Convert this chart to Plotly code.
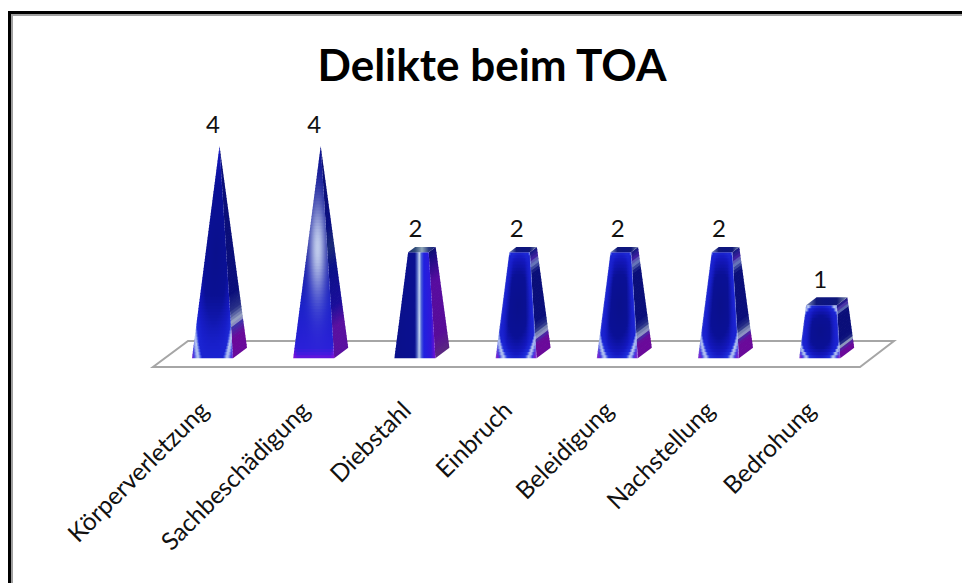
import math
import plotly.graph_objects as go

# ---- data ----
categories = ["Körperverletzung", "Sachbeschädigung", "Diebstahl", "Einbruch",
              "Beleidigung", "Nachstellung", "Bedrohung"]
values = [4, 4, 2, 2, 2, 2, 1]
point_styles = ["ring", "glow", "stripe", "ring", "ring", "ring", "ring"]
chart_title = "Delikte beim TOA"

# ---- canvas / scale (pixel constants are in page coordinates) ----
W, H_PAGE = 962, 583
L, R, T, B = 100, 930, 100, 390
PX_X = 101.2      # pixels per category
PX_Y = 51.75      # pixels per value unit
X0, Y0 = 219.5, 353
AXIS_MAX = 4.0    # pyramid apex value


def dx(px):
    return px / PX_X


def dy(px):
    return px / PX_Y


def hex2rgb(h):
    return tuple(int(h[i:i + 2], 16) for i in (1, 3, 5))


def ramp(stops, t):
    if t <= stops[0][0]:
        return hex2rgb(stops[0][1])
    for (a, ca), (b, cb) in zip(stops, stops[1:]):
        if t <= b:
            f = (t - a) / (b - a)
            A, Bb = hex2rgb(ca), hex2rgb(cb)
            return tuple(A[i] + (Bb[i] - A[i]) * f for i in range(3))
    return hex2rgb(stops[-1][1])


def css(c):
    return "rgb(%d,%d,%d)" % tuple(int(round(v)) for v in c)


def mix(a, b, f):
    return tuple(a[i] + (b[i] - a[i]) * f for i in range(3))


RING = [(0, "#0a108c"), (0.5, "#0a1096"), (0.75, "#1418c0"), (0.9, "#2030e0"),
        (0.98, "#b8c8f0"), (1.03, "#a0b0f0"), (1.1, "#4040e0"), (1.18, "#7a18d0"), (1.4, "#8a10b0")]
GLOW_V = [(0, "#7a10d8"), (0.015, "#4a18e0"), (0.05, "#2a20d8"), (0.25, "#1a20c8"),
          (0.5, "#0a1098"), (1, "#0a1090")]
STRIPE = [(-22, "#0a108c"), (-7, "#0a1090"), (-4.5, "#5a70c8"), (-2.5, "#c8d8f0"),
          (-0.5, "#4a60d8"), (2, "#2020e0"), (9, "#3018d8"), (14, "#7a10d0")]


def front_color(style, u, xn, x_from_c, h, H, tall):
    if style == "ring":
        yn = (h - H / 2) / (H / 2)
        d = math.sqrt(xn ** 2 + (0.87 * yn) ** 2) / (1.12 if tall else 1.05)
        col = ramp(RING, d)
        if tall and d < 0.9:
            col = mix(col, hex2rgb("#1a22d0"), max(0, min(1, 1 - h / (0.3 * H))))
        if not tall:
            col = mix(col, hex2rgb("#1a22d0"), max(0, min(1, (abs(u) - 0.5) / 0.35)) * (1 if d < 0.9 else 0))
            col = mix(col, hex2rgb("#8fa0e8"), max(0, min(1, (abs(u) - 0.93) / 0.07)) * 0.6)
        return col
    if style == "glow":
        base = ramp(GLOW_V, h / H)
        base = mix(base, hex2rgb("#8a10d8"), max(0, min(1, (abs(xn) - 0.8) / 0.2)) * max(0, 1 - h / 14))
        e = ((x_from_c + 3) / 10) ** 2 + ((h - 108) / 55) ** 2
        return mix(base, hex2rgb("#c8d4f0"), 0.95 * math.exp(-1.3 * e))
    return ramp(STRIPE, x_from_c)


def side_color(style, h, H, tall):
    t = h / H
    if style == "ring":
        band = 0.16 if tall else 0.2
        if not tall and t > 0.8:
            return ramp([(0.8, "#0a0e7a"), (0.88, "#7080c0"), (0.93, "#4020a0"), (1, "#101880")], t)
        return ramp([(0, "#6a0a9a"), (band - 0.07, "#6a0a9a"), (band - 0.02, "#4030a8"),
                     (band, "#a8b4cc"), (band + 0.06, "#283088"), (band + 0.14, "#0a0e7a"),
                     (1, "#0a0e78")], t)
    if style == "glow":
        return ramp([(0, "#5a10a0"), (0.14, "#5a10a0"), (0.24, "#1a0e9a"), (0.42, "#0a1088"),
                     (0.52, "#1a2a78"), (0.62, "#0a0e80"), (1, "#0a0e70")], t)
    return ramp([(0, "#5a2a80"), (0.2, "#580c98"), (0.7, "#580ca0"), (0.95, "#180c80"), (1, "#101070")], t)


TOP_STOPS = {
    "ring": ["#8090b8", "#101878", "#0c1480", "#101878", "#8090b0"],
    "stripe": ["#1c2c70", "#304c78", "#90a8b8", "#2a3a80", "#182080"],
}

fig = go.Figure()
STEP = 3.0
FRONT_Y, HALF_W, SIDE_X, BACK_X = 5.25, 20.5, 7.0, 27.5


def poly(xs, ys, colors=None, fill=None):
    tr = dict(x=xs + xs[:1], y=ys + ys[:1], mode="lines", fill="toself",
              line=dict(width=0), hoverinfo="skip", showlegend=False)
    if colors:
        n = len(colors) - 1
        tr["fillgradient"] = dict(type="horizontal",
                                  colorscale=[[i / n, c] for i, c in enumerate(colors)])
    else:
        tr["fillcolor"] = fill
    fig.add_trace(go.Scatter(**tr))


for i, (v, style) in enumerate(zip(values, point_styles)):
    Hfull = v * PX_Y
    tall = v >= AXIS_MAX
    n = max(2, int(round(Hfull / STEP)))

    def scale(h):
        return 1 - (h / Hfull) * (v / AXIS_MAX)

    # side face first (front overlaps its seam)
    for k in range(n):
        h1, h2 = Hfull * k / n, Hfull * (k + 1.25) / n
        h2 = min(h2, Hfull)
        s1, s2 = scale(h1), scale(h2)
        xs = [i + dx(13.5 * s1), i + dx(BACK_X * s1), i + dx(BACK_X * s2), i + dx(13.5 * s2)]
        ys = [dy(h1 - FRONT_Y * s1), dy(h1 + FRONT_Y * s1), dy(h2 + FRONT_Y * s2), dy(h2 - FRONT_Y * s2)]
        poly(xs, ys, fill=css(side_color(style, (h1 + h2) / 2, Hfull, tall)))

    # front face as stacked strips with horizontal gradients
    for k in range(n):
        h1, h2 = Hfull * k / n, Hfull * (k + 1.25) / n
        h2 = min(h2, Hfull)
        s1, s2 = scale(h1), scale(h2)
        hm = (h1 + h2) / 2
        sm = scale(hm)
        cols = []
        for j in range(41):
            u = -1 + 2 * j / 40
            xn = u * s1                     # relative to the base half width
            x_from_c = -SIDE_X * sm + xn * HALF_W
            cols.append(css(front_color(style, u, xn, x_from_c, hm, Hfull, tall)))
        xs = [i + dx((-SIDE_X - HALF_W) * s1), i + dx((-SIDE_X + HALF_W) * s1),
              i + dx((-SIDE_X + HALF_W) * s2), i + dx((-SIDE_X - HALF_W) * s2)]
        ys = [dy(h1 - FRONT_Y * s1), dy(h1 - FRONT_Y * s1), dy(h2 - FRONT_Y * s2), dy(h2 - FRONT_Y * s2)]
        poly(xs, ys, colors=cols)

    # top face of truncated pyramids
    if not tall:
        s = scale(Hfull)
        xs = [i + dx((-SIDE_X - HALF_W) * s), i + dx((-SIDE_X + HALF_W) * s),
              i + dx(BACK_X * s), i + dx((BACK_X - 2 * HALF_W) * s)]
        ys = [dy(Hfull - FRONT_Y * s), dy(Hfull - FRONT_Y * s), dy(Hfull + FRONT_Y * s), dy(Hfull + FRONT_Y * s)]
        poly(xs, ys, colors=TOP_STOPS.get(style, TOP_STOPS["ring"]))

# value labels
fig.add_trace(go.Scatter(
    x=[i - dx(6.5) for i in range(len(values))],
    y=[v + dy(7) for v in values],
    text=[str(v) for v in values],
    mode="text", textposition="top center",
    textfont=dict(family="Lato, Carlito, sans-serif", size=24, color="#111111"),
    hoverinfo="skip", showlegend=False))


def xp(px):
    return (px - L) / (R - L)


def yp(py):
    return 1 - (py - T) / (B - T)


def fx(px):
    return (px - X0) / PX_X


def fy(py):
    return (Y0 - py) / PX_Y


floor_pts = [(153, 367), (860, 367), (894, 341), (188, 341)]
floor_path = "M " + " L ".join("%.4f,%.4f" % (fx(a), fy(b)) for a, b in floor_pts) + " Z"

shapes = [
    dict(type="path", path=floor_path, xref="x", yref="y", layer="below",
         fillcolor="#ffffff", line=dict(color="#a6a6a6", width=2)),
    dict(type="rect", xref="paper", yref="paper", x0=xp(8), x1=xp(11), y0=yp(583), y1=yp(11),
         fillcolor="#000000", line_width=0, layer="below"),
    dict(type="rect", xref="paper", yref="paper", x0=xp(8), x1=xp(962), y0=yp(14), y1=yp(11),
         fillcolor="#000000", line_width=0, layer="below"),
    dict(type="rect", xref="paper", yref="paper", x0=xp(11), x1=xp(13), y0=yp(583), y1=yp(14),
         fillcolor="#a0a0a0", line_width=0, layer="below"),
    dict(type="rect", xref="paper", yref="paper", x0=xp(11), x1=xp(962), y0=yp(16), y1=yp(14),
         fillcolor="#a0a0a0", line_width=0, layer="below"),
]

fig.update_layout(
    width=W, height=H_PAGE,
    margin=dict(l=L, r=W - R, t=T, b=H_PAGE - B, pad=0),
    paper_bgcolor="#ffffff", plot_bgcolor="rgba(0,0,0,0)",
    title=dict(text="<b>%s</b>" % chart_title, x=492 / W, xanchor="center", xref="container",
               y=1 - 66 / H_PAGE, yanchor="middle", yref="container",
               font=dict(family="Lato, Carlito, sans-serif", size=44, color="#000000")),
    xaxis=dict(range=[fx(L), fx(R)], tickmode="array",
               tickvals=[i - dx(18) for i in range(len(categories))],
               ticktext=categories, tickangle=-45, ticks="", showgrid=False, zeroline=False,
               showline=False, tickfont=dict(family="Lato, Carlito, sans-serif", size=24.5, color="#111111")),
    yaxis=dict(range=[fy(B), fy(T)], visible=False),
    shapes=shapes,
)
fig.write_html("out.html", config={"displayModeBar": False},
               post_script="document.body.style.margin='0';document.body.style.overflow='hidden';")
